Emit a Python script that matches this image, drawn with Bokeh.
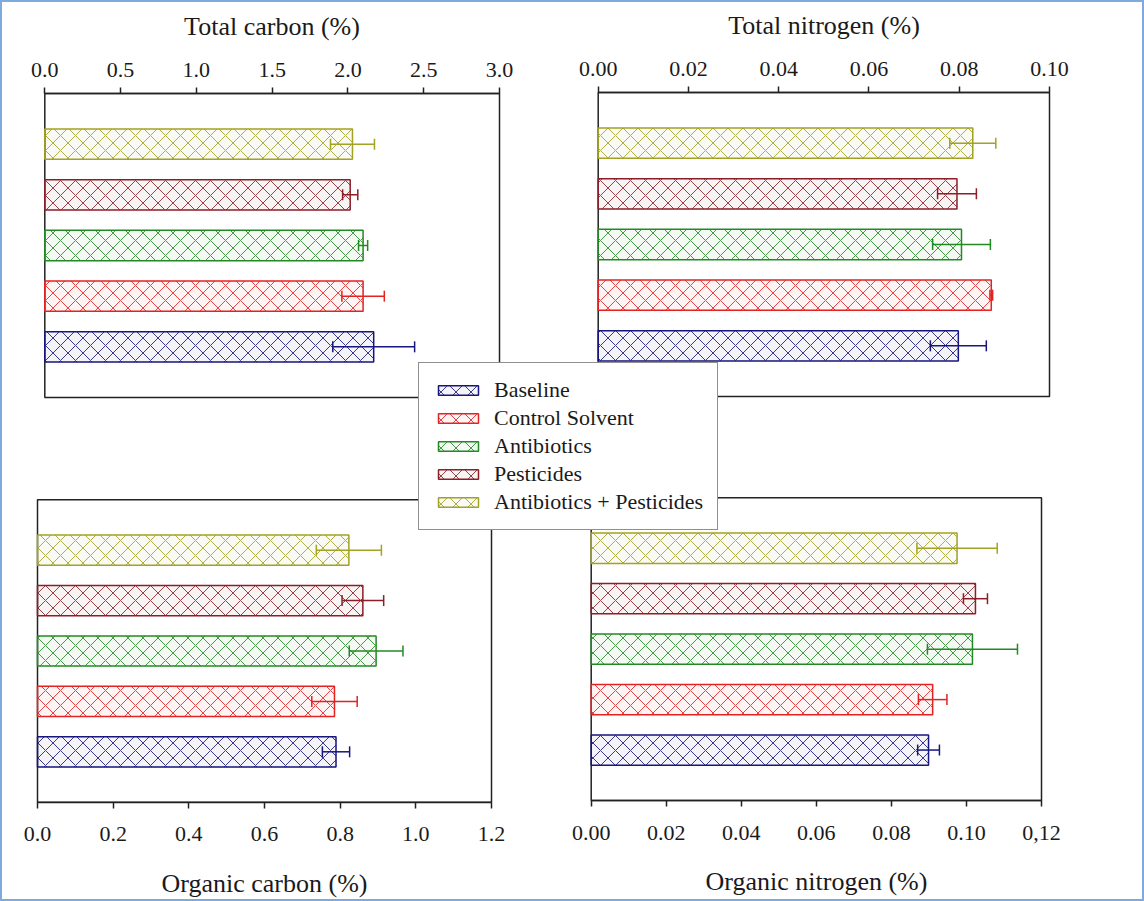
from math import pi
from bokeh.plotting import figure
from bokeh.models import (Range1d, LinearAxis, FixedTicker, ColumnDataSource,
                          Legend, LegendItem)
from bokeh.embed import file_html
from bokeh.resources import INLINE

# ---------------- data ----------------
CATEGORIES = ["Baseline", "Control Solvent", "Antibiotics", "Pesticides",
              "Antibiotics + Pesticides"]
COLORS = ["#16167E", "#E42222", "#228A22", "#8C1E28", "#A2A224"]

TC_MEAN = [2.17, 2.10, 2.10, 2.015, 2.03]
TC_ERR = [0.27, 0.14, 0.03, 0.05, 0.145]
TN_MEAN = [0.0798, 0.0871, 0.0805, 0.0795, 0.0830]
TN_ERR = [0.0062, 0.0003, 0.0064, 0.0043, 0.0051]
OC_MEAN = [0.789, 0.785, 0.895, 0.860, 0.823]
OC_ERR = [0.036, 0.060, 0.071, 0.055, 0.086]
ON_MEAN = [0.0899, 0.0910, 0.1016, 0.1024, 0.0975]
ON_ERR = [0.0029, 0.0038, 0.0120, 0.0032, 0.0107]

TC_TICKS = [0.0, 0.5, 1.0, 1.5, 2.0, 2.5, 3.0]
TC_LABELS = ["0.0", "0.5", "1.0", "1.5", "2.0", "2.5", "3.0"]
TN_TICKS = [0.0, 0.02, 0.04, 0.06, 0.08, 0.10]
TN_LABELS = ["0.00", "0.02", "0.04", "0.06", "0.08", "0.10"]
OC_TICKS = [0.0, 0.2, 0.4, 0.6, 0.8, 1.0, 1.2]
OC_LABELS = ["0.0", "0.2", "0.4", "0.6", "0.8", "1.0", "1.2"]
ON_TICKS = [0.0, 0.02, 0.04, 0.06, 0.08, 0.10, 0.12]
ON_LABELS = ["0.00", "0.02", "0.04", "0.06", "0.08", "0.10", "0,12"]

TITLES = ["Total carbon (%)", "Total nitrogen (%)",
          "Organic carbon (%)", "Organic nitrogen (%)"]

# ---------------- layout ----------------
W, H = 1144, 901
PAGE_L, PAGE_T = 0, 0
PAGE_R, PAGE_B = PAGE_L + W, PAGE_T + H
FONT = "Liberation Serif"
TXT = "#1a1a1a"
Y_MAX = len(CATEGORIES) + 1
BAR_H = 0.6

# panel frames in page pixels: left, right, top, bottom, side
PANELS = [
    ("tc", TC_MEAN, TC_ERR, TC_TICKS, TC_LABELS, TITLES[0], (44.3, 499.0, 93.0, 397.0), "above"),
    ("tn", TN_MEAN, TN_ERR, TN_TICKS, TN_LABELS, TITLES[1], (597.7, 1049.0, 92.0, 396.0), "above"),
    ("oc", OC_MEAN, OC_ERR, OC_TICKS, OC_LABELS, TITLES[2], (37.0, 491.0, 499.3, 801.7), "below"),
    ("on", ON_MEAN, ON_ERR, ON_TICKS, ON_LABELS, TITLES[3], (590.7, 1041.0, 497.3, 800.0), "below"),
]

p = figure(width=W, height=H, output_backend="svg", toolbar_location=None,
           x_axis_location=None, y_axis_location=None,
           x_range=Range1d(0, W), y_range=Range1d(0, H), min_border=0,
           background_fill_color="white", border_fill_color="white")
p.outline_line_color = "#7FAADD"
p.outline_line_width = 3
p.grid.visible = False

legend_renderer = None
for key, mean, err, ticks, labels, title, (pl, pr, pt, pb), side in PANELS:
    vmax = ticks[-1]
    sx = vmax / (pr - pl)
    sy = Y_MAX / (pb - pt)
    p.extra_x_ranges[key] = Range1d(start=-(pl - PAGE_L) * sx, end=(PAGE_R - pl) * sx)
    p.extra_y_ranges[key] = Range1d(start=-(PAGE_B - pb) * sy, end=(pb - PAGE_T) * sy)

    ys = [i + 1 for i in range(len(CATEGORIES))]
    src = ColumnDataSource(dict(
        y=ys, val=mean,
        lo=[m - e for m, e in zip(mean, err)],
        hi=[m + e for m, e in zip(mean, err)],
        color=COLORS,
    ))

    # panel box
    p.quad(left=[ticks[0]], right=[vmax], bottom=[0], top=[Y_MAX],
           fill_color=None, line_color="#222222", line_width=1.5,
           x_range_name=key, y_range_name=key)

    r = p.hbar(y="y", right="val", left=0, height=BAR_H, source=src,
               fill_color="color", fill_alpha=0.05,
               line_color="color", line_width=1.5,
               hatch_pattern="diagonal_cross", hatch_color="color",
               hatch_scale=15, hatch_weight=1, hatch_alpha=0.85,
               x_range_name=key, y_range_name=key)
    if legend_renderer is None:
        legend_renderer = r

    p.segment(x0="lo", y0="y", x1="hi", y1="y", source=src,
              line_color="color", line_width=1.5,
              x_range_name=key, y_range_name=key)
    p.scatter(x="lo", y="y", source=src, marker="dash", angle=pi / 2, size=11,
              line_color="color", line_width=1.5,
              x_range_name=key, y_range_name=key)
    p.scatter(x="hi", y="y", source=src, marker="dash", angle=pi / 2, size=11,
              line_color="color", line_width=1.5,
              x_range_name=key, y_range_name=key)

    ax = LinearAxis(x_range_name=key, y_range_name=key,
                    fixed_location=(Y_MAX if side == "above" else 0),
                    bounds=(ticks[0], vmax),
                    ticker=FixedTicker(ticks=ticks, minor_ticks=[]),
                    major_label_overrides={t: l for t, l in zip(ticks, labels)},
                    axis_label=title)
    ax.axis_line_color = "#222222"
    ax.axis_line_width = 1.5
    ax.major_tick_line_color = "#222222"
    ax.major_tick_line_width = 1.5
    ax.major_tick_out = 6
    ax.major_tick_in = 0
    ax.minor_tick_out = 0
    ax.minor_tick_in = 0
    ax.major_label_text_font = FONT
    ax.major_label_text_font_size = "22px"
    ax.major_label_text_color = TXT
    ax.axis_label_text_font = FONT
    ax.axis_label_text_font_size = "26px"
    ax.axis_label_text_font_style = "normal"
    ax.axis_label_text_color = TXT
    if side == "above":
        ax.major_label_standoff = 11
        ax.axis_label_standoff = 19
    else:
        ax.major_label_standoff = 19
        ax.axis_label_standoff = 24
    p.add_layout(ax, side)

items = [LegendItem(label=c, renderers=[legend_renderer], index=i)
         for i, c in enumerate(CATEGORIES)]
legend = Legend(items=items, location=(418 - PAGE_L, PAGE_B - 530),
                orientation="vertical",
                background_fill_color="white", background_fill_alpha=1.0,
                border_line_color="#222222", border_line_width=1.5,
                label_text_font=FONT, label_text_font_size="22px",
                label_text_color=TXT,
                glyph_width=50, glyph_height=12, label_standoff=11,
                label_height=20, spacing=2, padding=14, margin=0)
p.add_layout(legend, "center")

open("out.html", "w").write(file_html(p, INLINE))
